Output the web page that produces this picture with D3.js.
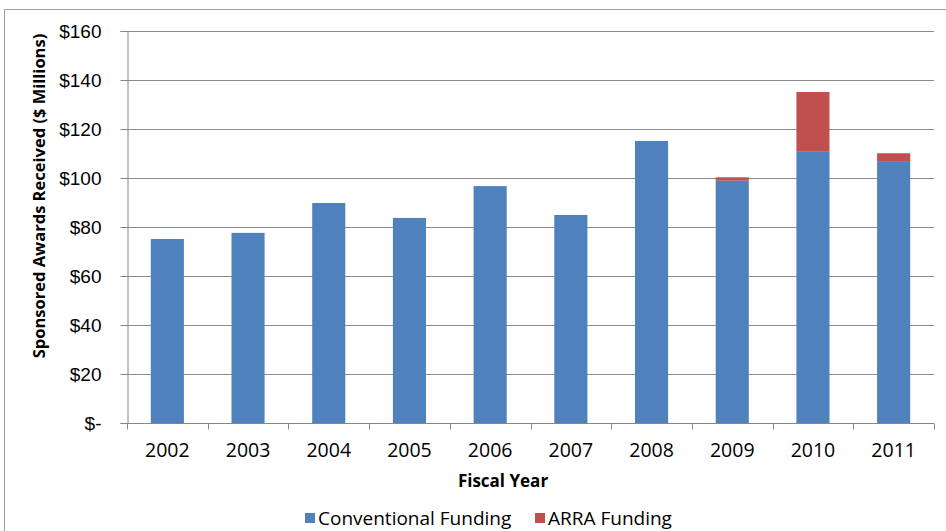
<!DOCTYPE html>
<html>
<head>
<meta charset="utf-8">
<script src="https://cdn.jsdelivr.net/npm/d3@7"></script>
<style>
  body { margin: 0; background: #fff; }
  svg { font-family: "Open Sans", sans-serif; }
</style>
</head>
<body>
<svg width="946" height="531"></svg>
<script>
let years = ['2002', '2003', '2004', '2005', '2006', '2007', '2008', '2009', '2010', '2011'];
let conventional = [75.1, 77.6, 89.8, 83.7, 96.7, 84.9, 115.1, 98.9, 110.7, 106.9];
let arra = [0, 0, 0, 0, 0, 0, 0, 1.4, 24.4, 3.2];
let yTicks = [0, 20, 40, 60, 80, 100, 120, 140, 160];
let seriesNames = ['Conventional Funding', 'ARRA Funding'];
let colors = ['#4F81BD', '#C0504D'];

let svg = d3.select('svg');
let margin = {left: 127, right: 12, top: 31, bottom: 108};
let width = 946, height = 531;

// outer frame (chart box)
svg.append('path')
  .attr('d', 'M4.5,531 V9.5 H946')
  .attr('fill', 'none')
  .attr('stroke', '#a0a0a0')
  .attr('stroke-width', 1);

let x = d3.scaleBand()
  .domain(years)
  .range([margin.left, width - margin.right])
  .paddingInner(0.59)
  .paddingOuter(0.295);

let y = d3.scaleLinear()
  .domain([0, 160])
  .range([height - margin.bottom, margin.top]);

// gridlines
svg.append('g')
  .selectAll('line')
  .data(yTicks.slice(1))
  .enter().append('line')
  .attr('x1', margin.left).attr('x2', width - margin.right)
  .attr('y1', d => Math.round(y(d)) + 0.5).attr('y2', d => Math.round(y(d)) + 0.5)
  .attr('stroke', '#8c8c8c');

let rows = years.map((yr, i) => ({year: yr, conv: conventional[i], arra: arra[i]}));
let stack = d3.stack().keys(['conv', 'arra'])(rows);

svg.append('g')
  .selectAll('g')
  .data(stack)
  .enter().append('g')
  .attr('fill', (d, i) => colors[i])
  .selectAll('rect')
  .data(d => d)
  .enter().append('rect')
  .attr('x', d => x(d.data.year))
  .attr('width', x.bandwidth())
  .attr('y', d => y(d[1]))
  .attr('height', d => y(d[0]) - y(d[1]));

// y axis
let yAxis = d3.axisLeft(y)
  .tickValues(yTicks)
  .tickSize(7)
  .tickPadding(19)
  .tickFormat(d => d === 0 ? '$-' : '$' + d);

let gy = svg.append('g')
  .attr('transform', 'translate(' + (margin.left + 0.5) + ',0)')
  .call(yAxis);
gy.select('.domain').attr('stroke', '#868686');
gy.selectAll('.tick line').attr('stroke', '#868686');
gy.selectAll('.tick text').attr('font-size', 19).attr('fill', '#000');

// x axis
let gx = svg.append('g')
  .attr('transform', 'translate(0,' + (Math.round(y(0)) + 0.5) + ')');
gx.append('line')
  .attr('x1', margin.left).attr('x2', width - margin.right)
  .attr('stroke', '#868686');
let step = (width - margin.right - margin.left) / years.length;
gx.selectAll('.edge')
  .data(d3.range(years.length + 1))
  .enter().append('line')
  .attr('x1', i => Math.round(margin.left + i * step) + 0.5)
  .attr('x2', i => Math.round(margin.left + i * step) + 0.5)
  .attr('y1', 0).attr('y2', 6)
  .attr('stroke', '#868686');
gx.selectAll('text')
  .data(years)
  .enter().append('text')
  .attr('x', d => x(d) + x.bandwidth() / 2)
  .attr('y', 33)
  .attr('text-anchor', 'middle')
  .attr('font-size', 19.5)
  .text(d => d);

// axis titles
svg.append('text')
  .attr('transform', 'translate(45,196) rotate(-90)')
  .attr('text-anchor', 'middle')
  .attr('font-size', 16.5)
  .attr('font-weight', 'bold')
  .text('Sponsored Awards Received ($ Millions)');

svg.append('text')
  .attr('x', 503)
  .attr('y', 487)
  .attr('text-anchor', 'middle')
  .attr('font-size', 17)
  .attr('font-weight', 'bold')
  .text('Fiscal Year');

// legend
let legendX = [305, 535];
let legend = svg.append('g')
  .selectAll('g')
  .data(seriesNames)
  .enter().append('g')
  .attr('transform', (d, i) => 'translate(' + legendX[i] + ',513)');
legend.append('rect')
  .attr('width', 10).attr('height', 10)
  .attr('fill', (d, i) => colors[i]);
legend.append('text')
  .attr('x', legendX[0] === 305 ? 13 : 13)
  .attr('y', 12)
  .attr('font-size', 19)
  .text(d => d);
</script>
</body>
</html>
